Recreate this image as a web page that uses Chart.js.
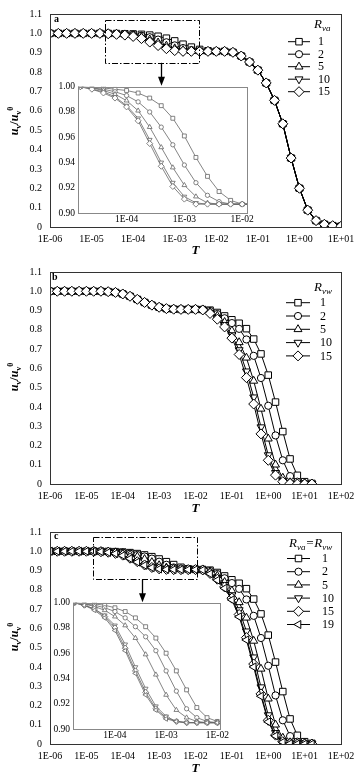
<!DOCTYPE html>
<html><head><meta charset="utf-8">
<script src="https://cdn.jsdelivr.net/npm/chart.js"></script>
<style>
html,body{margin:0;padding:0;background:#fff;}
body{width:363px;height:778px;position:relative;overflow:hidden;font-family:"Liberation Serif","Times New Roman",serif;color:#000;}
canvas{position:absolute;}
.t{position:absolute;white-space:nowrap;line-height:1;}
.yt{transform:translate(-50%,-50%) rotate(-90deg);font-size:12px;font-weight:bold;}
.yt sub,.yt sup{font-size:8px;line-height:0;}
.lt{font-size:13px;font-style:italic;}
.lt sub{font-size:9px;line-height:0;vertical-align:-3px;}
.pl{font-size:10px;font-weight:bold;}
</style></head>
<body>
<canvas id="ca" width="363" height="258" style="left:0;top:0"></canvas>
<canvas id="cb" width="363" height="260" style="left:0;top:258px"></canvas>
<canvas id="cc" width="363" height="260" style="left:0;top:518px"></canvas>
<canvas id="ia" width="215" height="150" style="left:40px;top:78px"></canvas>
<canvas id="ic" width="195" height="150" style="left:35px;top:594px"></canvas>

<div class="t yt" style="left:14px;top:121px"><i>u</i><sub>v</sub>/<i>u</i><sub>v</sub><sup>0</sup></div>
<div class="t yt" style="left:14px;top:377px"><i>u</i><sub>v</sub>/<i>u</i><sub>v</sub><sup>0</sup></div>
<div class="t yt" style="left:14px;top:637px"><i>u</i><sub>v</sub>/<i>u</i><sub>v</sub><sup>0</sup></div>
<div class="t pl" style="left:54px;top:14px">a</div>
<div class="t pl" style="left:52px;top:272px">b</div>
<div class="t pl" style="left:54px;top:531px">c</div>
<div class="t lt" style="left:314px;top:17px">R<sub>va</sub></div>
<div class="t lt" style="left:314px;top:280px">R<sub>vw</sub></div>
<div class="t lt" style="left:289px;top:536px">R<sub>va</sub>=R<sub>vw</sub></div>

<script>
// ---------------- data ----------------
const T_A = [1e-6,1.585e-6,2.512e-6,3.981e-6,6.310e-6, 1e-5,1.585e-5,2.512e-5,3.981e-5,6.310e-5,
  1e-4,1.585e-4,2.512e-4,3.981e-4,6.310e-4, 1e-3,1.585e-3,2.512e-3,3.981e-3,6.310e-3,
  1e-2,1.585e-2,2.512e-2,3.981e-2,6.310e-2, 0.1,0.1585,0.2512,0.3981,0.6310,
  1,1.585,2.512,3.981,6.310, 10];
const T_BC = [1e-6,1.585e-6,2.512e-6,3.981e-6,6.310e-6, 1e-5,1.585e-5,2.512e-5,3.981e-5,6.310e-5,
  1e-4,1.585e-4,2.512e-4,3.981e-4,6.310e-4, 1e-3,1.585e-3,2.512e-3,3.981e-3,6.310e-3,
  1e-2,1.585e-2,2.512e-2,3.981e-2,6.310e-2, 0.1,0.1585,0.2512,0.3981,0.6310,
  1,1.585,2.512,3.981,6.310, 10,15.85];

const LABELS_A = ['1','2','5','10','15'];
const LABELS_B = ['1','2','5','10','15'];
const LABELS_C = ['1','2','5','10','15','19'];

// panel a (R_va)
const A_R1  = [1,1,1,1,1,1, 1.000,0.9995,0.999,0.998,0.997,0.995,0.991,0.985,0.975,0.961,0.944,0.929,0.917,0.910,0.907,
  0.907,0.902,0.883,0.852,0.810,0.744,0.654,0.533,0.356,0.200,0.087,0.033,0.014,0.007,0.004];
const A_R2  = [1,1,1,1,1,1, 1.000,0.999,0.998,0.996,0.993,0.988,0.980,0.968,0.954,0.938,0.924,0.914,0.909,0.907,0.907,
  0.907,0.902,0.883,0.852,0.810,0.744,0.654,0.533,0.356,0.200,0.087,0.033,0.014,0.007,0.004];
const A_R5  = [1,1,1,1,1,1, 1.000,0.999,0.997,0.994,0.989,0.981,0.968,0.952,0.936,0.922,0.913,0.908,0.907,0.907,0.907,
  0.907,0.902,0.883,0.852,0.810,0.744,0.654,0.533,0.356,0.200,0.087,0.033,0.014,0.007,0.004];
const A_R10 = [1,1,1,1,1,1, 1.000,0.998,0.996,0.992,0.985,0.975,0.958,0.940,0.924,0.913,0.908,0.907,0.907,0.907,0.907,
  0.907,0.902,0.883,0.852,0.810,0.744,0.654,0.533,0.356,0.200,0.087,0.033,0.014,0.007,0.004];
const A_R15 = [1,1,1,1,1,1, 1.000,0.998,0.995,0.991,0.984,0.973,0.955,0.937,0.921,0.911,0.907,0.907,0.907,0.907,0.907,
  0.907,0.902,0.883,0.852,0.810,0.744,0.654,0.533,0.356,0.200,0.087,0.033,0.014,0.007,0.004];

// panel b (R_vw)
const B_R1  = [1,1,1,1,1,1,1,1,0.998,0.994,0.986,0.974,0.958,0.942,0.928,0.917,0.910,0.907,0.906,0.906,0.906,
  0.905,0.902,0.890,0.872,0.852,0.834,0.806,0.752,0.675,0.565,0.425,0.272,0.130,0.045,0.012,0.003];
const B_R2  = [1,1,1,1,1,1,1,1,0.998,0.994,0.986,0.974,0.958,0.942,0.928,0.917,0.910,0.907,0.906,0.906,0.906,
  0.905,0.898,0.882,0.860,0.835,0.805,0.750,0.665,0.550,0.406,0.252,0.123,0.041,0.012,0.003,0.000];
const B_R5  = [1,1,1,1,1,1,1,1,0.998,0.994,0.986,0.974,0.958,0.942,0.928,0.917,0.910,0.907,0.906,0.906,0.906,
  0.905,0.892,0.872,0.840,0.795,0.735,0.655,0.535,0.390,0.235,0.100,0.032,0.008,0.002,0.000,0.000];
const B_R10 = [1,1,1,1,1,1,1,1,0.998,0.994,0.986,0.974,0.958,0.942,0.928,0.917,0.910,0.907,0.906,0.906,0.906,
  0.904,0.888,0.862,0.826,0.772,0.695,0.585,0.450,0.295,0.150,0.058,0.016,0.004,0.000,0.000,0.000];
const B_R15 = [1,1,1,1,1,1,1,1,0.998,0.994,0.986,0.974,0.958,0.942,0.928,0.917,0.910,0.907,0.906,0.906,0.906,
  0.903,0.885,0.855,0.815,0.757,0.672,0.552,0.415,0.260,0.123,0.046,0.012,0.003,0.000,0.000,0.000];

// panel c (R_va = R_vw)
const C_R1  = [1,1,1,1,1,1, 1.000,0.9995,0.999,0.998,0.996,0.993,0.988,0.981,0.972,0.960,0.946,0.931,0.917,0.909,0.906,
  0.905,0.902,0.890,0.872,0.852,0.834,0.806,0.752,0.675,0.565,0.425,0.272,0.130,0.045,0.012,0.003];
const C_R2  = [1,1,1,1,1,1, 1.000,0.999,0.998,0.996,0.993,0.988,0.981,0.973,0.962,0.946,0.930,0.916,0.909,0.906,0.905,
  0.905,0.898,0.882,0.860,0.835,0.805,0.750,0.665,0.550,0.406,0.252,0.123,0.041,0.012,0.003,0.000];
const C_R5  = [1,1,1,1,1,1, 1.000,0.999,0.997,0.994,0.989,0.982,0.972,0.959,0.943,0.927,0.915,0.909,0.906,0.905,0.905,
  0.905,0.892,0.872,0.840,0.795,0.735,0.655,0.535,0.390,0.235,0.100,0.032,0.008,0.002,0.000,0.000];
const C_R10 = [1,1,1,1,1,1, 1.000,0.998,0.995,0.990,0.982,0.967,0.949,0.932,0.918,0.910,0.906,0.905,0.905,0.905,0.905,
  0.904,0.888,0.862,0.826,0.772,0.695,0.585,0.450,0.295,0.150,0.058,0.016,0.004,0.000,0.000,0.000];
const C_R15 = [1,1,1,1,1,1, 1.000,0.998,0.995,0.989,0.980,0.964,0.946,0.929,0.916,0.909,0.906,0.905,0.905,0.905,0.905,
  0.903,0.885,0.855,0.815,0.757,0.672,0.552,0.415,0.260,0.123,0.046,0.012,0.003,0.000,0.000,0.000];
const C_R19 = [1,1,1,1,1,1, 1.000,0.998,0.994,0.988,0.978,0.962,0.944,0.927,0.915,0.908,0.906,0.905,0.905,0.905,0.905,
  0.903,0.883,0.850,0.808,0.748,0.660,0.540,0.400,0.248,0.115,0.042,0.010,0.002,0.000,0.000,0.000];

// axes / ticks
const X_TICKS_A  = [1e-6,1e-5,1e-4,1e-3,1e-2,1e-1,1,10];
const X_LABELS_A = ['1E-06','1E-05','1E-04','1E-03','1E-02','1E-01','1E+00','1E+01'];
const X_TICKS_BC  = [1e-6,1e-5,1e-4,1e-3,1e-2,1e-1,1,10,100];
const X_LABELS_BC = ['1E-06','1E-05','1E-04','1E-03','1E-02','1E-01','1E+00','1E+01','1E+02'];
const Y_TICKS  = [0,0.1,0.2,0.3,0.4,0.5,0.6,0.7,0.8,0.9,1.0,1.1];
const Y_LABELS = ['0','0.1','0.2','0.3','0.4','0.5','0.6','0.7','0.8','0.9','1.0','1.1'];
const IN_X_TICKS  = [1e-4,1e-3,1e-2];
const IN_X_LABELS = ['1E-04','1E-03','1E-02'];
const IN_Y_TICKS  = [0.90,0.92,0.94,0.96,0.98,1.00];
const IN_Y_LABELS = ['0.90','0.92','0.94','0.96','0.98','1.00'];
const IN_A_RANGE = [1.445e-5, 1.23e-2];
const IN_C_RANGE = [1.514e-5, 1.12e-2];

// zoom-box annotations (data coordinates of the main panels)
const BOX_A = {x0:2.1e-5, x1:3.82e-3, y0:0.848, y1:1.068, ax:4.66e-4, ay:0.730};
const BOX_C = {x0:1.49e-5, x1:1.08e-2, y0:0.853, y1:1.073, ax:3.32e-4, ay:0.735};

// ---------------- drawing ----------------
Chart.defaults.font.family = '"Liberation Serif","Times New Roman",serif';
Chart.defaults.color = '#000';

const STYLES = [
  {ps:'rect', r:4.6, rot:0},
  {ps:'circle', r:3.6, rot:0},
  {ps:'triangle', r:4.6, rot:0},
  {ps:'triangle', r:4.6, rot:180},
  {ps:'rectRot', r:5, rot:0},
  {ps:'triangle', r:4.6, rot:-90}
];

function buildSets(T, list, labels, small) {
  return list.map((vals, i) => {
    const st = STYLES[i];
    const col = small ? '#666' : '#000';
    return {
      label: labels[i],
      data: T.map((t, j) => ({x: t, y: vals[j]})),
      borderColor: col,
      borderWidth: small ? 0.8 : 1,
      pointStyle: st.ps,
      pointRotation: st.rot,
      pointRadius: small ? st.r * 0.6 : st.r,
      pointBackgroundColor: '#fff',
      pointBorderColor: col,
      pointBorderWidth: small ? 0.8 : 1,
      tension: 0,
      fill: false,
      clip: small ? 0 : undefined,
      order: -i
    };
  });
}

const framePlugin = {
  id: 'frame',
  beforeDatasetsDraw(chart, args, o) {
    const a = chart.chartArea, ctx = chart.ctx;
    if (o.fill) { ctx.save(); ctx.fillStyle = o.fill; ctx.fillRect(a.left, a.top, a.right - a.left, a.bottom - a.top); ctx.restore(); }
  },
  afterDatasetsDraw(chart, args, o) {
    const a = chart.chartArea, ctx = chart.ctx;
    ctx.save(); ctx.strokeStyle = o.color || '#333'; ctx.lineWidth = 1;
    ctx.strokeRect(Math.round(a.left) + 0.5, Math.round(a.top) + 0.5, Math.round(a.right - a.left), Math.round(a.bottom - a.top));
    ctx.restore();
  }
};

function drawMarker(ctx, ds, x, y) {
  ctx.fillStyle = '#fff'; ctx.strokeStyle = '#000'; ctx.lineWidth = 1;
  if (Chart.helpers && Chart.helpers.drawPoint) {
    Chart.helpers.drawPoint(ctx, {pointStyle: ds.pointStyle, radius: ds.pointRadius, rotation: ds.pointRotation, borderWidth: 1}, x, y);
  } else {
    ctx.beginPath(); ctx.arc(x, y, ds.pointRadius, 0, Math.PI * 2); ctx.fill(); ctx.stroke();
  }
}

const keyPlugin = {
  id: 'keyL',
  afterDraw(chart, args, o) {
    if (!o || !o.show) return;
    const ctx = chart.ctx;
    ctx.save();
    chart.data.datasets.forEach((ds, i) => {
      const y = o.y0 + o.dy * i;
      ctx.strokeStyle = '#000'; ctx.lineWidth = 1;
      ctx.beginPath(); ctx.moveTo(o.x0, y); ctx.lineTo(o.x1, y); ctx.stroke();
      drawMarker(ctx, ds, (o.x0 + o.x1) / 2, y);
      ctx.fillStyle = '#000'; ctx.font = '12px "Liberation Serif", serif';
      ctx.textBaseline = 'middle'; ctx.textAlign = 'left';
      ctx.fillText(ds.label, o.tx, y + 0.5);
    });
    ctx.restore();
  }
};

const notePlugin = {
  id: 'notes',
  afterDatasetsDraw(chart, args, o) {
    if (!o || !o.box) return;
    const b = o.box, xs = chart.scales.x, ys = chart.scales.y, ctx = chart.ctx;
    const x0 = xs.getPixelForValue(b.x0), x1 = xs.getPixelForValue(b.x1);
    const y0 = ys.getPixelForValue(b.y0), y1 = ys.getPixelForValue(b.y1);
    ctx.save();
    ctx.strokeStyle = '#000'; ctx.lineWidth = 1;
    ctx.setLineDash([6, 2, 1.5, 2]);
    ctx.strokeRect(Math.round(x0) + 0.5, Math.round(y1) + 0.5, Math.round(x1 - x0), Math.round(y0 - y1));
    ctx.setLineDash([]);
    const ax = Math.round(xs.getPixelForValue(b.ax)) + 0.5, ay = ys.getPixelForValue(b.ay);
    ctx.lineWidth = 1.3;
    ctx.beginPath(); ctx.moveTo(ax, y0); ctx.lineTo(ax, ay - 7); ctx.stroke();
    ctx.fillStyle = '#000';
    ctx.beginPath(); ctx.moveTo(ax - 3.5, ay - 9); ctx.lineTo(ax + 3.5, ay - 9); ctx.lineTo(ax, ay); ctx.closePath(); ctx.fill();
    ctx.restore();
  }
};

function mainChart(id, T, list, labels, cfg) {
  return new Chart(document.getElementById(id), {
    type: 'line',
    data: {datasets: buildSets(T, list, labels, false)},
    options: {
      responsive: false, animation: false, devicePixelRatio: 1,
      layout: {padding: {left: 0, right: 22, top: cfg.top, bottom: 0}},
      plugins: {legend: {display: false}, tooltip: {enabled: false},
        frame: {color: '#333'}, keyL: cfg.legend, notes: {box: cfg.box}},
      scales: {
        x: {type: 'logarithmic', min: cfg.xTicks[0], max: cfg.xTicks[cfg.xTicks.length - 1],
          grid: {display: false, drawTicks: false}, border: {display: false},
          ticks: {autoSkip: false, maxRotation: 0, minRotation: 0, padding: 6, font: {size: 10},
            callback: (v, i) => cfg.xLabels[i]},
          afterBuildTicks: s => { s.ticks = cfg.xTicks.map(v => ({value: v})); },
          afterFit: s => { s.height = cfg.xh; },
          title: {display: true, text: 'T', font: {size: 13, style: 'italic', weight: 'bold'}, padding: {top: 0, bottom: cfg.tb}}
        },
        y: {type: 'linear', min: 0, max: 1.1,
          grid: {display: false, drawTicks: false}, border: {display: false},
          ticks: {padding: 8, font: {size: 10}, callback: (v, i) => Y_LABELS[i]},
          afterBuildTicks: s => { s.ticks = Y_TICKS.map(v => ({value: v})); },
          afterFit: s => { s.width = 50; }
        }
      }
    },
    plugins: [framePlugin, keyPlugin, notePlugin]
  });
}

function insetChart(id, T, list, labels, range, padRight) {
  return new Chart(document.getElementById(id), {
    type: 'line',
    data: {datasets: buildSets(T, list, labels, true)},
    options: {
      responsive: false, animation: false, devicePixelRatio: 1,
      layout: {padding: {left: 0, right: padRight, top: 7, bottom: 0}},
      plugins: {legend: {display: false}, tooltip: {enabled: false}, frame: {color: '#888', fill: '#fff'}},
      scales: {
        x: {type: 'logarithmic', min: range[0], max: range[1],
          grid: {display: false, drawTicks: false}, border: {display: false},
          ticks: {autoSkip: false, maxRotation: 0, minRotation: 0, padding: 1, font: {size: 9.5},
            callback: (v, i) => IN_X_LABELS[i]},
          afterBuildTicks: s => { s.ticks = IN_X_TICKS.map(v => ({value: v})); },
          afterFit: s => { s.height = 15; }
        },
        y: {type: 'linear', min: 0.9, max: 1.0,
          grid: {display: false, drawTicks: false}, border: {display: false},
          ticks: {padding: 3, font: {size: 9.5}, callback: (v, i) => IN_Y_LABELS[i]},
          afterBuildTicks: s => { s.ticks = IN_Y_TICKS.map(v => ({value: v})); },
          afterFit: s => { s.width = 38; }
        }
      }
    },
    plugins: [framePlugin]
  });
}

mainChart('ca', T_A, [A_R1, A_R2, A_R5, A_R10, A_R15], LABELS_A, {
  top: 13, xh: 31, tb: 0, xTicks: X_TICKS_A, xLabels: X_LABELS_A, box: BOX_A,
  legend: {show: true, x0: 288, x1: 310, tx: 318, y0: 41.7, dy: 12.5}
});
mainChart('cb', T_BC, [B_R1, B_R2, B_R5, B_R10, B_R15], LABELS_B, {
  top: 12, xh: 34, tb: 2, xTicks: X_TICKS_BC, xLabels: X_LABELS_BC, box: null,
  legend: {show: true, x0: 286, x1: 310, tx: 320, y0: 44.7, dy: 13.3}
});
mainChart('cc', T_BC, [C_R1, C_R2, C_R5, C_R10, C_R15, C_R19], LABELS_C, {
  top: 12, xh: 34, tb: 2, xTicks: X_TICKS_BC, xLabels: X_LABELS_BC, box: BOX_C,
  legend: {show: true, x0: 287, x1: 310, tx: 322, y0: 40.5, dy: 13.2}
});
insetChart('ia', T_A, [A_R1, A_R2, A_R5, A_R10, A_R15], LABELS_A, IN_A_RANGE, 7);
insetChart('ic', T_BC, [C_R1, C_R2, C_R5, C_R10, C_R15, C_R19], LABELS_C, IN_C_RANGE, 6);
</script>
</body></html>
